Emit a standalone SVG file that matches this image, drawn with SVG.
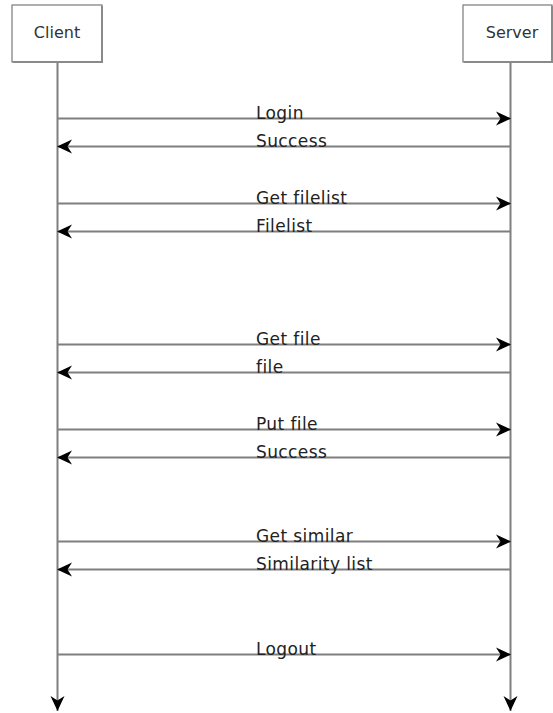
<svg xmlns="http://www.w3.org/2000/svg" width="553" height="713" viewBox="0 0 553 713">
  <style>
    .box { fill: #ffffff; stroke: #7a7a7a; stroke-width: 1.2; }
    .shadow { fill: none; stroke: #8a8a8a; stroke-width: 2; }
    .life { stroke: #7f7f7f; stroke-width: 2; fill: none; }
    .msg { stroke: #7f7f7f; stroke-width: 2; fill: none; }
    .name { font-family: "DejaVu Sans", sans-serif; font-size: 16px; fill: #333333; text-anchor: middle; }
    .lbl { font-family: "DejaVu Sans", sans-serif; font-size: 17px; letter-spacing: 0.4px; fill: #222222; }
  </style>
  <defs>
    <marker id="arrow" viewBox="0 0 15 16" refX="15" refY="8" markerWidth="15" markerHeight="16" markerUnits="userSpaceOnUse" orient="auto">
      <path d="M0,1 L15,8 L0,15 L4.5,8 Z" fill="#000000"/>
    </marker>
  </defs>
  <rect width="553" height="713" fill="#ffffff"/>

  <!-- participant heads -->
  <g id="client">
    <rect class="box" x="12" y="5" width="90" height="57"/>
    <path class="shadow" d="M102,6 L102,62 L13,62"/>
    <text class="name" x="57" y="38">Client</text>
  </g>
  <g id="server">
    <rect class="box" x="463" y="5" width="89" height="57"/>
    <path class="shadow" d="M552,6 L552,62 L464,62"/>
    <text class="name" x="512" y="38">Server</text>
  </g>

  <!-- lifelines and messages -->
  <g id="connectors">
    <line class="life" x1="57.5" y1="63" x2="57.5" y2="711" marker-end="url(#arrow)"/>
    <line class="life" x1="510.5" y1="63" x2="510.5" y2="711" marker-end="url(#arrow)"/>

    <line class="msg" x1="58" y1="118.5" x2="511" y2="118.5" marker-end="url(#arrow)"/>
    <line class="msg" x1="510" y1="146.5" x2="57" y2="146.5" marker-end="url(#arrow)"/>
    <line class="msg" x1="58" y1="203.5" x2="511" y2="203.5" marker-end="url(#arrow)"/>
    <line class="msg" x1="510" y1="231.5" x2="57" y2="231.5" marker-end="url(#arrow)"/>
    <line class="msg" x1="58" y1="344.5" x2="511" y2="344.5" marker-end="url(#arrow)"/>
    <line class="msg" x1="510" y1="372.5" x2="57" y2="372.5" marker-end="url(#arrow)"/>
    <line class="msg" x1="58" y1="429.5" x2="511" y2="429.5" marker-end="url(#arrow)"/>
    <line class="msg" x1="510" y1="457.5" x2="57" y2="457.5" marker-end="url(#arrow)"/>
    <line class="msg" x1="58" y1="541.5" x2="511" y2="541.5" marker-end="url(#arrow)"/>
    <line class="msg" x1="510" y1="569.5" x2="57" y2="569.5" marker-end="url(#arrow)"/>
    <line class="msg" x1="58" y1="654.5" x2="511" y2="654.5" marker-end="url(#arrow)"/>
  </g>

  <!-- message labels -->
  <g id="labels">
    <text class="lbl" x="256" y="119">Login</text>
    <text class="lbl" x="256" y="147">Success</text>
    <text class="lbl" x="256" y="204">Get filelist</text>
    <text class="lbl" x="256" y="232">Filelist</text>
    <text class="lbl" x="256" y="345">Get file</text>
    <text class="lbl" x="256" y="373">file</text>
    <text class="lbl" x="256" y="430">Put file</text>
    <text class="lbl" x="256" y="458">Success</text>
    <text class="lbl" x="256" y="542">Get similar</text>
    <text class="lbl" x="256" y="570">Similarity list</text>
    <text class="lbl" x="256" y="655">Logout</text>
  </g>
</svg>
